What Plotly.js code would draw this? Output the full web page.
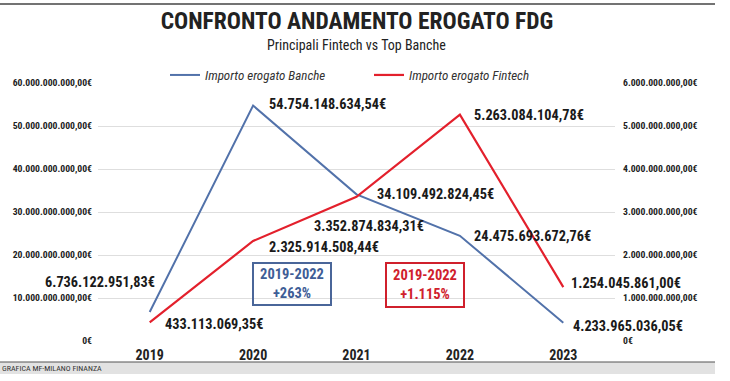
<!DOCTYPE html>
<html><head><meta charset="utf-8">
<script src="https://cdn.plot.ly/plotly-3.0.1.min.js"></script>
<style>html,body{margin:0;padding:0;background:#fff}#chart{width:730px;height:381px}</style>
</head><body><div id="chart"></div>
<script>
// ---- data ----
const years = ['2019', '2020', '2021', '2022', '2023'];
const banche = [6736122951.83, 54754148634.54, 34109492824.45, 24475693672.76, 4233965036.05];
const fintech = [433113069.35, 2325914508.44, 3352874834.31, 5263084104.78, 1254045861.00];
const seriesNames = ['Importo erogato Banche', 'Importo erogato Fintech'];
const leftTickVals = [0, 10e9, 20e9, 30e9, 40e9, 50e9, 60e9];
const leftTickText = ['0€', '10.000.000.000,00€', '20.000.000.000,00€', '30.000.000.000,00€', '40.000.000.000,00€', '50.000.000.000,00€', '60.000.000.000,00€'];
const rightTickVals = [0, 1e9, 2e9, 3e9, 4e9, 5e9, 6e9];
const rightTickText = ['0€', '1.000.000.000,00€', '2.000.000.000,00€', '3.000.000.000,00€', '4.000.000.000,00€', '5.000.000.000,00€', '6.000.000.000,00€'];
const boxTexts = ['2019-2022<br>+263%', '2019-2022<br>+1.115%'];
const titleText = 'CONFRONTO ANDAMENTO EROGATO FDG';
const subtitleText = 'Principali Fintech vs Top Banche';
const creditText = 'GRAFICA MF-MILANO FINANZA';

// ---- style / placement ----
const COND = '"Roboto Condensed", Roboto, sans-serif';
const BLUE = '#5272aa', RED = '#e3202c';
const W = 730, H = 381, L = 98, R = 615, T = 83, B = 341;
const px = x => (x - L) / (R - L);
const py = y => (B - y) / (B - T);
// label offsets (xanchor, xshift, yshift)
const bancheLbl = [['right', 7, 30], ['left', 14, 2], ['left', 18, 0], ['left', 12, 0], ['left', 8, -3]];
const fintechLbl = [['left', 13, -2], ['left', 14, -6], ['center', 12, -29], ['left', 12, 0], ['left', 6, 4]];

function fmt(v) {
  const parts = v.toFixed(2).split('.');
  return parts[0].replace(/\B(?=(\d{3})+(?!\d))/g, '.') + ',' + parts[1] + '€';
}

const traces = [
  {x: years, y: banche, name: seriesNames[0], type: 'scatter', mode: 'lines',
   line: {color: BLUE, width: 2}, yaxis: 'y', hoverinfo: 'skip'},
  {x: years, y: fintech, name: seriesNames[1], type: 'scatter', mode: 'lines',
   line: {color: RED, width: 2.2}, yaxis: 'y2', hoverinfo: 'skip'}
];

const lblFont = {family: COND, size: 14.3, color: '#1a1a1a', weight: 'bold'};
const annotations = [];
years.forEach((yr, i) => {
  annotations.push({x: i, y: banche[i], xref: 'x', yref: 'y', text: fmt(banche[i]), showarrow: false,
    xanchor: bancheLbl[i][0], yanchor: 'middle', xshift: bancheLbl[i][1], yshift: bancheLbl[i][2], font: lblFont});
  annotations.push({x: i, y: fintech[i], xref: 'x', yref: 'y2', text: fmt(fintech[i]), showarrow: false,
    xanchor: fintechLbl[i][0], yanchor: 'middle', xshift: fintechLbl[i][1], yshift: fintechLbl[i][2], font: lblFont});
});
annotations.push({xref: 'paper', yref: 'paper', x: px(292), y: py(284), text: boxTexts[0], showarrow: false,
  xanchor: 'center', yanchor: 'middle', width: 72, height: 36, borderpad: 2, bordercolor: '#4a6699', borderwidth: 2,
  font: {family: COND, size: 14.5, color: '#3e5d96', weight: 'bold'}});
annotations.push({xref: 'paper', yref: 'paper', x: px(425), y: py(285), text: boxTexts[1], showarrow: false,
  xanchor: 'center', yanchor: 'middle', width: 72, height: 38, borderpad: 2, bordercolor: '#d0202c', borderwidth: 2,
  font: {family: COND, size: 14.5, color: '#d0202c', weight: 'bold'}});
annotations.push({xref: 'paper', yref: 'paper', x: px(356), y: py(45), text: subtitleText, showarrow: false,
  xanchor: 'center', yanchor: 'middle', font: {family: COND, size: 14, color: '#222'}});
annotations.push({xref: 'paper', yref: 'paper', x: px(0), y: py(368), text: creditText, showarrow: false,
  xanchor: 'left', yanchor: 'middle', font: {family: COND, size: 8, color: '#333'}});

const shapes = [
  {type: 'line', xref: 'paper', yref: 'paper', x0: px(0), x1: px(715), y0: py(4), y1: py(4), line: {color: '#444', width: 1.5}},
  {type: 'rect', xref: 'paper', yref: 'paper', x0: px(0), x1: px(715), y0: py(374), y1: py(362), fillcolor: '#e2e2e2', line: {width: 0}, layer: 'below'},
  {type: 'line', xref: 'paper', yref: 'paper', x0: px(0), x1: px(715), y0: py(362), y1: py(362), line: {color: '#555', width: 1.2}}
];

const layout = {
  width: W, height: H,
  margin: {l: L, r: W - R, t: T, b: H - B, pad: 0},
  paper_bgcolor: '#fff', plot_bgcolor: '#fff',
  title: {text: '<b>' + titleText + '</b>', x: 357 / W, xanchor: 'center', y: 1 - 21 / H, yanchor: 'middle',
    font: {family: COND, size: 23.5, color: '#222'}},
  showlegend: true,
  legend: {orientation: 'h', x: px(165), xanchor: 'left', y: py(75), yanchor: 'middle',
    bgcolor: 'rgba(0,0,0,0)', font: {family: COND, size: 13, color: '#333', style: 'italic'},
    entrywidth: 159, entrywidthmode: 'pixels', itemclick: false},
  xaxis: {type: 'category', range: [-0.5, 4.5], showgrid: false, zeroline: false, showline: false,
    ticks: '', tickfont: {family: COND, size: 14, color: '#222', weight: 'bold'}, ticklabelstandoff: 4},
  yaxis: {range: [0, 60e9], tickvals: leftTickVals, ticktext: leftTickText, showgrid: true, gridcolor: '#dedede',
    gridwidth: 1, zeroline: false, showline: false, ticks: '', ticklabelstandoff: 5,
    tickfont: {family: COND, size: 9.7, color: '#222', weight: 'bold'}},
  yaxis2: {range: [0, 6e9], overlaying: 'y', side: 'right', tickvals: rightTickVals, ticktext: rightTickText,
    showgrid: false, zeroline: false, showline: false, ticks: '', ticklabelstandoff: 7,
    tickfont: {family: COND, size: 9.7, color: '#222', weight: 'bold'}},
  annotations: annotations,
  shapes: shapes
};

Plotly.newPlot('chart', traces, layout, {displayModeBar: false, staticPlot: true});
</script>
</body></html>
